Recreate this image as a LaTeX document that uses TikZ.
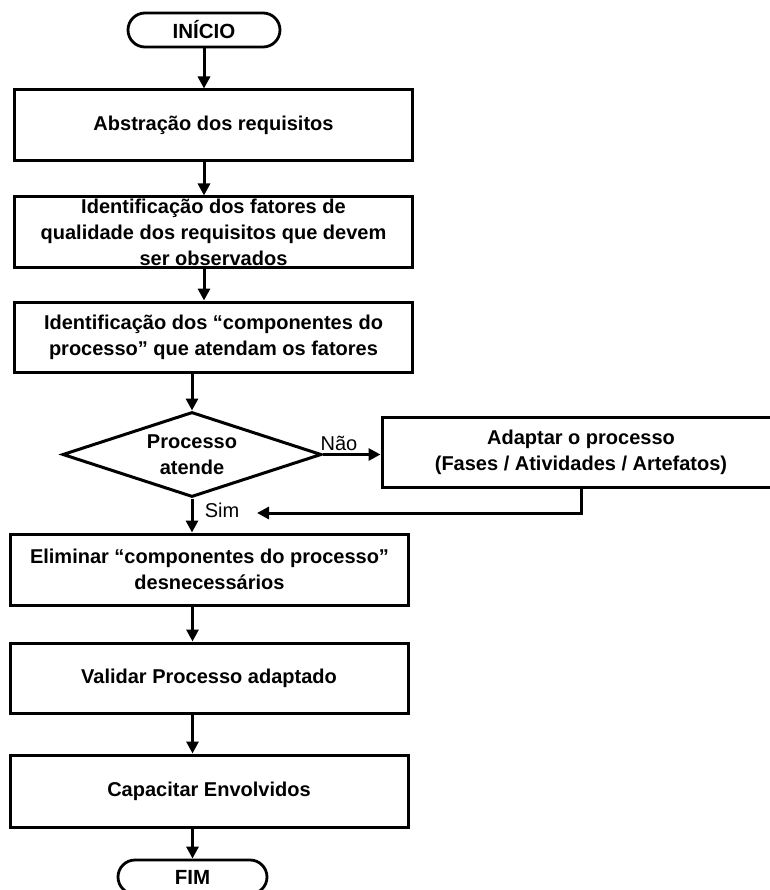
\documentclass[tikz,border=0pt]{standalone}
\usepackage{fontspec}
\setmainfont{Liberation Sans}
\usetikzlibrary{shapes.geometric,arrows.meta}
\begin{document}
\begin{tikzpicture}[
    x=1pt, y=-1pt,
    every node/.style={align=center, font=\fontsize{20}{26}\selectfont},
    caixa/.style={draw, line width=3pt, rectangle, minimum width=398pt, minimum height=71pt, inner sep=0pt, font=\fontsize{20}{26}\selectfont\bfseries},
    terminal/.style={draw, line width=2.8pt, rectangle, rounded corners=17pt, minimum height=34pt, inner sep=0pt, font=\fontsize{20.5}{22}\selectfont\bfseries},
    decisao/.style={draw, line width=3pt, diamond, minimum width=259pt, minimum height=85pt, inner sep=0pt},
    seta/.style={draw, line width=3pt, -{Triangle[width=12pt,length=12pt]}},
    ]
\useasboundingbox (0,0) rectangle (769,890);
\node[terminal, minimum width=152pt] (inicio) at (204,30) {INÍCIO};
\node[caixa] (abstr) at (213.5,125.5) {Abstração dos requisitos};
\node[caixa] (fatores) at (213.5,232.5) {Identificação dos fatores de\\qualidade dos requisitos que devem\\ser observados};
\node[caixa, minimum height=70pt] (compon) at (213.5,337) {Identificação dos “componentes do\\processo” que atendam os fatores};
\node[decisao] (atende) at (192,454.5) {};
\node[font=\fontsize{20}{26}\selectfont\bfseries] (atendetxt) at (atende.center) {Processo\\atende};
\node[caixa, minimum height=70pt] (adaptar) at (581,452) {Adaptar o processo\\(Fases / Atividades / Artefatos)};
\node[caixa] (eliminar) at (209.5,569.5) {Eliminar “componentes do processo”\\desnecessários};
\node[caixa, minimum height=70pt] (validar) at (209,678) {Validar Processo adaptado};
\node[caixa, minimum height=72pt] (capacitar) at (209,791) {Capacitar Envolvidos};
\node[terminal, minimum width=149pt] (fim) at (192.5,877) {FIM};
\node (nao) at (339,443) {Não};
\node (sim) at (222,510) {Sim};
\coordinate (retorno) at (257,513);
\draw[seta] (inicio.south) -- (abstr.north -| inicio.south);
\draw[seta] (abstr.south -| inicio.south) -- (fatores.north -| inicio.south);
\draw[seta] (fatores.south -| inicio.south) -- (compon.north -| inicio.south);
\draw[seta] (compon.south -| atende.north) -- (atende.north);
\draw[seta] (atende.east) -- (atende.east -| adaptar.west);
\draw[seta] (adaptar.south) |- (retorno);
\draw[seta] (atende.south) -- (eliminar.north -| atende.south);
\draw[seta] (eliminar.south -| fim.north) -- (validar.north -| fim.north);
\draw[seta] (validar.south -| fim.north) -- (capacitar.north -| fim.north);
\draw[seta] (capacitar.south -| fim.north) -- (fim.north);
\end{tikzpicture}
\end{document}
